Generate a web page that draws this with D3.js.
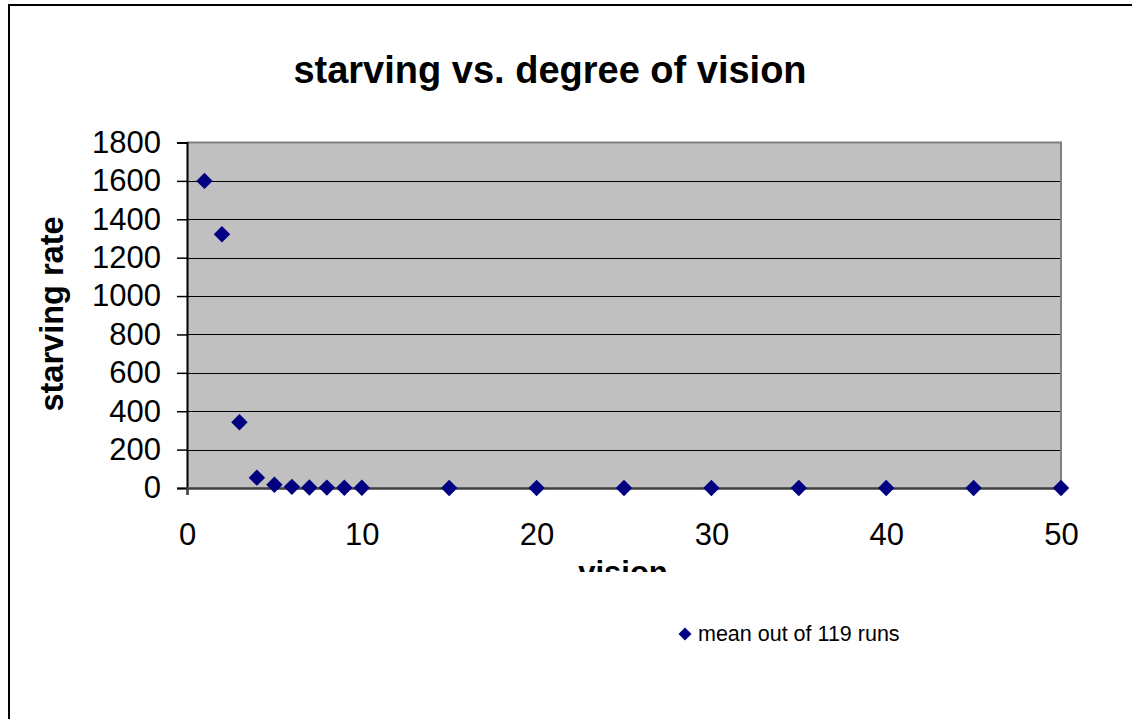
<!DOCTYPE html>
<html><head><meta charset="utf-8">
<script src="https://cdn.jsdelivr.net/npm/d3@7"></script>
<style>body{margin:0;background:#fff}svg{display:block;font-family:"Liberation Sans",Arial,sans-serif}</style>
</head><body>
<svg id="c" width="1132" height="719"></svg>
<script>
const visionValues = [1,2,3,4,5,6,7,8,9,10,15,20,25,30,35,40,45,50];
const starvingValues = [1600,1322,343,54,17,6,3,2,1,1,0,0,0,0,0,0,0,0];
const yTicks = [0,200,400,600,800,1000,1200,1400,1600,1800];
const xTicks = [0,10,20,30,40,50];
const titleText = "starving vs. degree of vision";
const xTitle = "vision";
const yTitle = "starving rate";
const legendLabel = "mean out of 119 runs";

const svg = d3.select("#c");
// outer frame
svg.append("rect").attr("x",9).attr("y",5).attr("width",1140).attr("height",730)
  .attr("fill","#fff").attr("stroke","#000").attr("stroke-width",2);

const L=187,R=1061,T=142.5,B=488;
const x = d3.scaleLinear().domain([0,50]).range([L,R]);
const y = d3.scaleLinear().domain([0,1800]).range([B,T]);

svg.append("rect").attr("x",L).attr("y",T).attr("width",R-L).attr("height",B-T).attr("fill","#c0c0c0");

// gridlines
svg.append("g").selectAll("line").data(yTicks.filter(d=>d>0&&d<1800)).join("line")
  .attr("x1",L).attr("x2",R).attr("y1",d=>Math.round(y(d))+0.5).attr("y2",d=>Math.round(y(d))+0.5)
  .attr("stroke","#000").attr("stroke-width",1);

// plot border top/right
svg.append("path").attr("d",`M${L},${T} H${R} V${B}`).attr("fill","none").attr("stroke","#808080").attr("stroke-width",2);

// y axis
const yAxis = svg.append("g").attr("transform",`translate(${L},0)`)
  .call(d3.axisLeft(y).tickValues(yTicks).tickSize(10).tickPadding(16).tickFormat(d3.format("d")));
yAxis.select(".domain").attr("stroke","#000").attr("stroke-width",2);
yAxis.selectAll(".tick line").attr("stroke","#000").attr("stroke-width",1.5);
yAxis.selectAll("text").attr("font-size",31).attr("fill","#000").attr("font-family","Liberation Sans, Arial, sans-serif");

// x axis
const xAxis = svg.append("g").attr("transform",`translate(0,${B})`)
  .call(d3.axisBottom(x).tickValues(xTicks).tickSize(7).tickPadding(28).tickFormat(d3.format("d")));
xAxis.select(".domain").attr("stroke","#404040").attr("stroke-width",2.5);
xAxis.selectAll(".tick line").attr("stroke","#404040").attr("stroke-width",1.5);
xAxis.selectAll("text").attr("font-size",31).attr("fill","#000").attr("font-family","Liberation Sans, Arial, sans-serif");

// markers
svg.append("g").selectAll("path").data(visionValues.map((v,i)=>[v,starvingValues[i]])).join("path")
  .attr("d", d3.symbol().type(d3.symbolSquare).size(135))
  .attr("transform",d=>`translate(${x(d[0])},${y(d[1])}) rotate(45)`)
  .attr("fill","#000080");

// title
svg.append("text").attr("x",550).attr("y",83).attr("text-anchor","middle")
  .attr("font-size",38).attr("font-weight","bold").text(titleText);

// y title
svg.append("text").attr("transform","translate(63,314) rotate(-90)").attr("text-anchor","middle")
  .attr("font-size",32.5).attr("font-weight","bold").text(yTitle);

// x title clipped
svg.append("clipPath").attr("id","clipx").append("rect").attr("x",0).attr("y",0).attr("width",1132).attr("height",572);
svg.append("text").attr("x",623).attr("y",583).attr("text-anchor","middle").attr("clip-path","url(#clipx)")
  .attr("font-size",31).attr("font-weight","bold").text(xTitle);

// legend
svg.append("path").attr("d", d3.symbol().type(d3.symbolSquare).size(85)).attr("transform","translate(685,634) rotate(45)").attr("fill","#000080");
svg.append("text").attr("x",698).attr("y",641).attr("font-size",21.5).text(legendLabel);
</script>
</body></html>
